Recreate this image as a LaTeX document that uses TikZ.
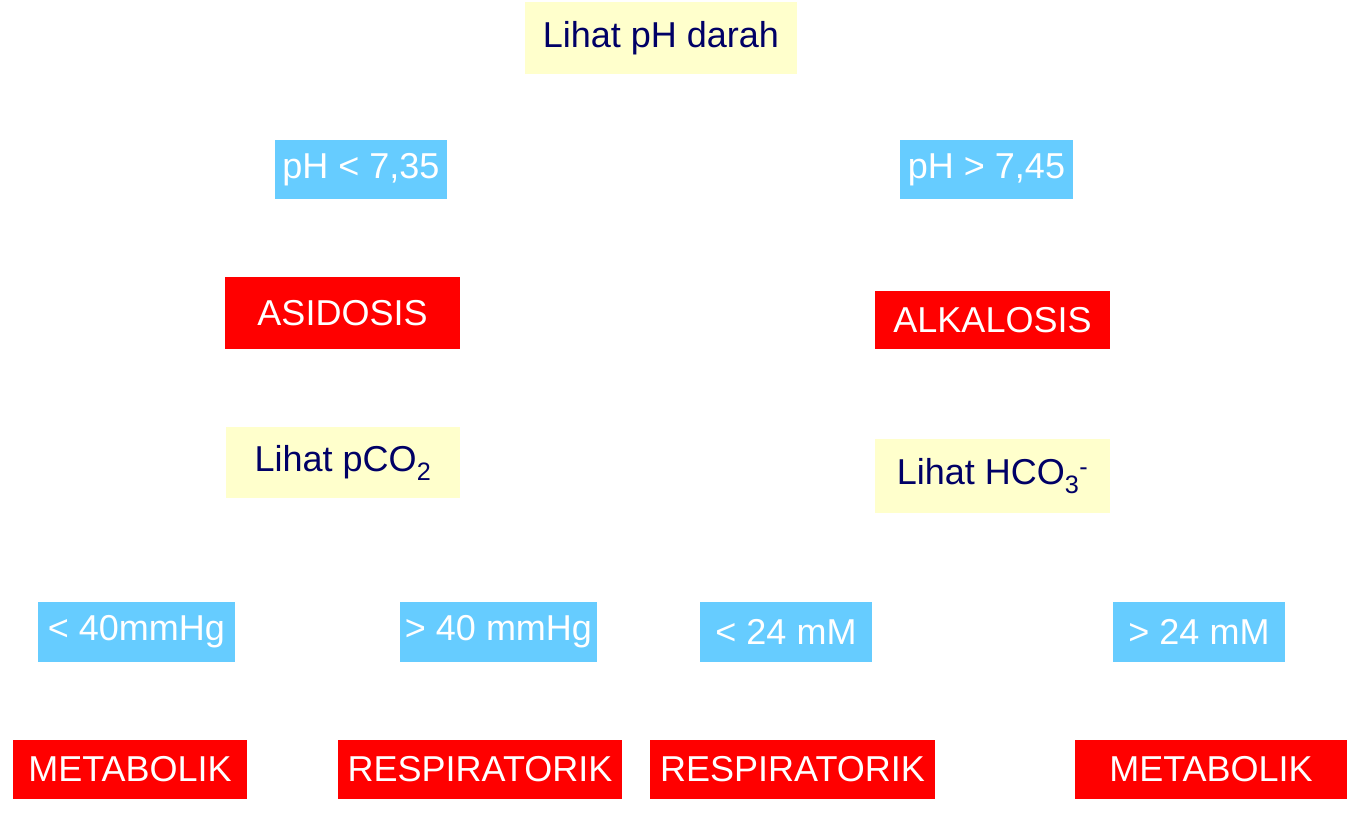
\documentclass[tikz,border=0pt]{standalone}
\usepackage{fontspec}
\setmainfont{Liberation Sans}
\definecolor{yel}{HTML}{FFFFCC}
\definecolor{blu}{HTML}{66CCFF}
\definecolor{rd}{HTML}{FF0000}
\definecolor{nav}{HTML}{000066}
\begin{document}
\begin{tikzpicture}[x=1pt,y=-1pt,
  base/.style={inner sep=0pt,font=\fontsize{36}{40}\selectfont},
  yb/.style={base,fill=yel,text=nav},
  bb/.style={base,fill=blu,text=white},
  rb/.style={base,fill=rd,text=white}]
\useasboundingbox[fill=white] (0,0) rectangle (1353,816);
\newcommand{\bx}[7]{\node[#1,minimum width=#4-#2,minimum height=#5-#3] (#6) at ({(#2+#4)/2},{(#3+#5)/2}) {#7};}
\bx{yb}{525}{2}{797}{74}{top}{Lihat pH darah}
\bx{bb}{275}{140}{447}{199}{ph1}{pH < 7,35}
\bx{bb}{900}{140}{1073}{199}{ph2}{pH > 7,45}
\bx{rb}{225}{277}{460}{349}{asi}{ASIDOSIS}
\bx{rb}{875}{291}{1110}{349}{alk}{ALKALOSIS}
\bx{yb}{226}{427}{460}{498}{pco}{Lihat pCO\textsubscript{2}}
\bx{yb}{875}{439}{1110}{513}{hco}{Lihat HCO\textsubscript{3}\textsuperscript{-}}
\bx{bb}{38}{602}{235}{662}{c1}{< 40mmHg}
\bx{bb}{400}{602}{597}{662}{c2}{> 40 mmHg}
\bx{bb}{700}{602}{872}{662}{c3}{< 24 mM}
\bx{bb}{1113}{602}{1285}{662}{c4}{> 24 mM}
\bx{rb}{13}{740}{247}{799}{r1}{METABOLIK}
\bx{rb}{338}{740}{622}{799}{r2}{RESPIRATORIK}
\bx{rb}{650}{740}{935}{799}{r3}{RESPIRATORIK}
\bx{rb}{1075}{740}{1347}{799}{r4}{METABOLIK}
\end{tikzpicture}
\end{document}
